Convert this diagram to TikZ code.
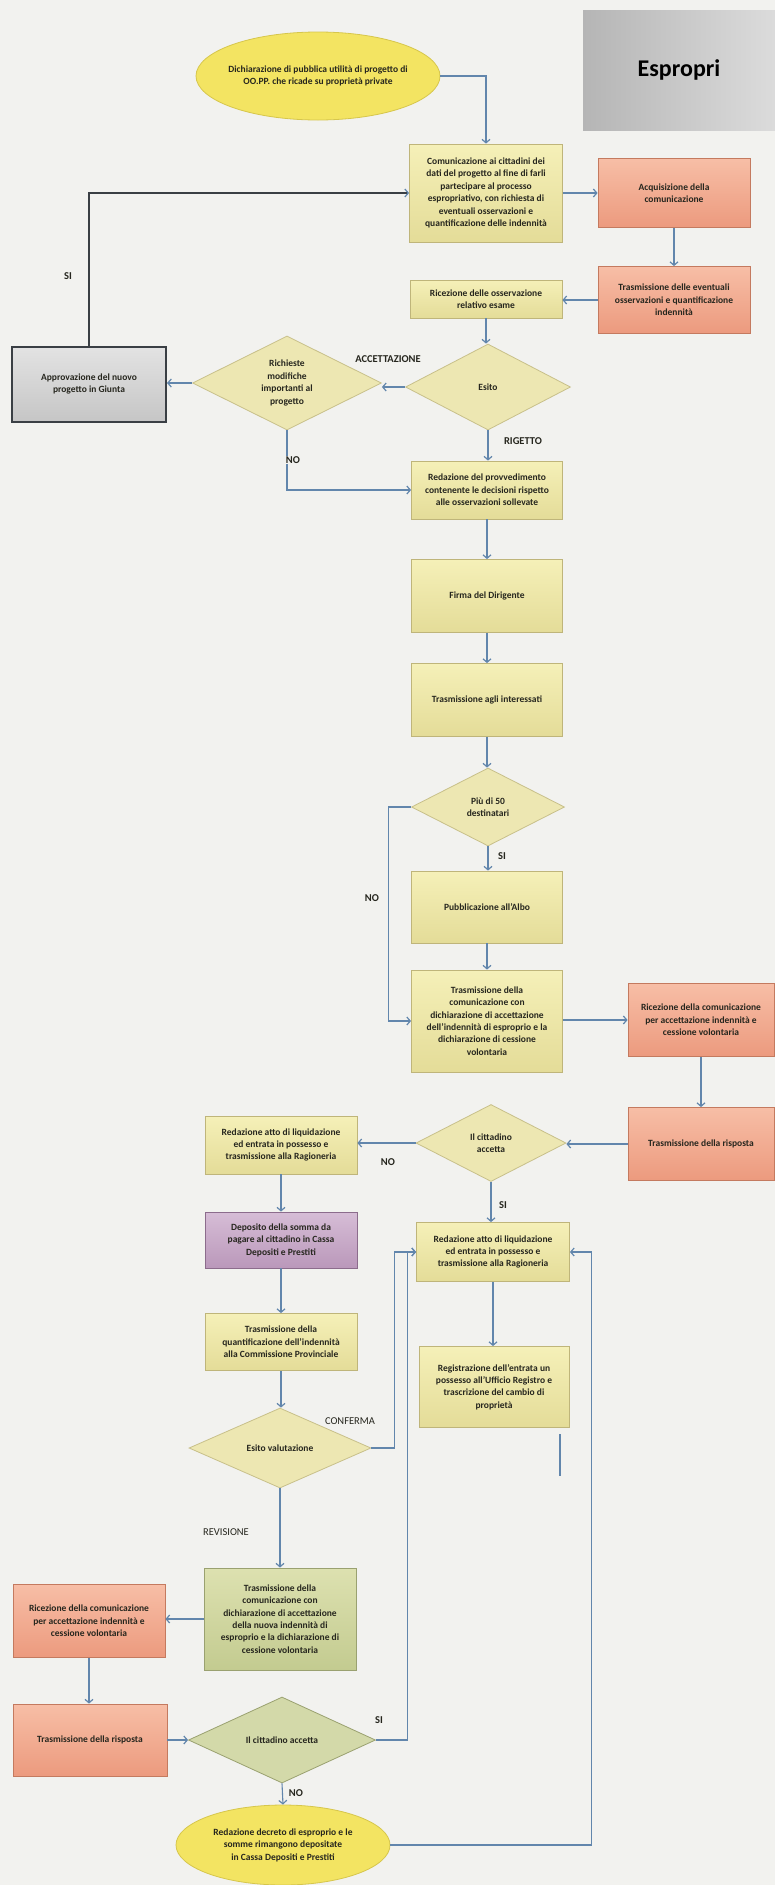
\documentclass[tikz,border=0pt]{standalone}
\usepackage{fontspec}
\setmainfont{Carlito}
\usetikzlibrary{arrows.meta,shapes.geometric,calc}
\definecolor{bgc}{HTML}{F2F2EF}
\definecolor{arr}{HTML}{6286AC}
\definecolor{arrd}{HTML}{3A3F44}
\definecolor{ylw1}{HTML}{F5F0B8}
\definecolor{ylw2}{HTML}{E4DC98}
\definecolor{ylwb}{HTML}{BFB57A}
\definecolor{sal1}{HTML}{F7BEA6}
\definecolor{sal2}{HTML}{EC9A7E}
\definecolor{salb}{HTML}{C47A5F}
\definecolor{dia}{HTML}{EDE7B2}
\definecolor{diab}{HTML}{C8C08A}
\definecolor{grn1}{HTML}{DDE1B0}
\definecolor{grn2}{HTML}{C3CB90}
\definecolor{grnb}{HTML}{9AA170}
\definecolor{gdia}{HTML}{D3D9A9}
\definecolor{pur1}{HTML}{D6BDD6}
\definecolor{pur2}{HTML}{BA98BA}
\definecolor{purb}{HTML}{8C6C8C}
\definecolor{ell}{HTML}{F3E462}
\definecolor{ellb}{HTML}{D6C64C}
\definecolor{txt}{HTML}{26261E}
\begin{document}
\begin{tikzpicture}[x=1pt,y=-1pt,
  sz/.style 2 args={minimum width=#1, minimum height=#2},
  boxtext/.style={font=\fontsize{9.5}{12.4}\selectfont\bfseries, align=center, text=txt},
  ybox/.style={boxtext, draw=ylwb, line width=0.8pt, top color=ylw1, bottom color=ylw2, inner sep=0pt},
  sbox/.style={boxtext, draw=salb, line width=0.8pt, top color=sal1, bottom color=sal2, inner sep=0pt},
  pbox/.style={boxtext, draw=purb, line width=0.8pt, top color=pur1, bottom color=pur2, inner sep=0pt},
  gnbox/.style={boxtext, draw=grnb, line width=0.8pt, top color=grn1, bottom color=grn2, inner sep=0pt},
  graybox/.style={boxtext, draw=arrd, line width=2pt, top color=gray!22, bottom color=gray!45, inner sep=0pt},
  decis/.style={diamond, draw=diab, line width=0.8pt, fill=dia, inner sep=0pt},
  term/.style={ellipse, draw=ellb, line width=0.8pt, fill=ell, inner sep=0pt},
  conn/.style={draw=arr, line width=1.1pt, -{Straight Barb[length=3.5pt,width=8pt,line width=1.2pt]}},
  lbl/.style={font=\fontsize{10.5}{12}\selectfont\bfseries, text=txt, inner sep=1pt},
  lblr/.style={font=\fontsize{10.5}{12}\selectfont, text=txt, inner sep=1pt}
]
\useasboundingbox (0,0) rectangle (775,1885);
\fill[bgc] (0,0) rectangle (775,1885);

% title
\node[left color=gray!58, right color=gray!28, sz={192}{120}, font=\fontsize{24}{26}\selectfont\bfseries, text=black] (esp) at (679,70) {Espropri};

% top part
\node[term, sz={244}{88}] (ell1) at (318,76) {};
\node[boxtext] (ell1t) at (ell1) {Dichiarazione di pubblica utilità di progetto di\\OO.PP. che ricade su proprietà private};

\node[ybox, sz={153}{98}] (com) at (486,193) {Comunicazione ai cittadini dei\\dati del progetto al fine di farli\\partecipare al processo\\espropriativo, con richiesta di\\eventuali osservazioni e\\quantificazione delle indennità};
\node[sbox, sz={152}{69}] (acq) at (674,193) {Acquisizione della\\comunicazione};
\node[sbox, sz={152}{67}] (tre) at (674,300) {Trasmissione delle eventuali\\osservazioni e quantificazione\\indennità};
\node[ybox, sz={152}{38}] (ric) at (486,299) {Ricezione delle osservazione\\relativo esame};

\node[decis, sz={165}{86}] (esito) at (488,387) {};
\node[boxtext] (esitot) at (esito) {Esito};
\node[decis, sz={189}{94}] (rich) at (287,383) {};
\node[boxtext] (richt) at (rich) {Richieste\\modifiche\\importanti al\\progetto};
\node[graybox, sz={154}{75}] (appr) at (89,384) {Approvazione del nuovo\\progetto in Giunta};

\node[ybox, sz={151}{58}] (red) at (487,490) {Redazione del provvedimento\\contenente le decisioni rispetto\\alle osservazioni sollevate};
\node[ybox, sz={151}{73}] (firma) at (487,596) {Firma del Dirigente};
\node[ybox, sz={151}{73}] (tras) at (487,700) {Trasmissione agli interessati};
\node[decis, sz={153}{78}] (piu) at (488,807) {};
\node[boxtext] (piut) at (piu) {Più di 50\\destinatari};
\node[ybox, sz={151}{72}] (pub) at (487,907) {Pubblicazione all'Albo};
\node[ybox, sz={151}{102}] (tdc) at (487,1021) {Trasmissione della\\comunicazione con\\dichiarazione di accettazione\\dell'indennità di esproprio e la\\dichiarazione di cessione\\volontaria};
\node[sbox, sz={146}{73}] (ric2) at (701,1020) {Ricezione della comunicazione\\per accettazione indennità e\\cessione volontaria};
\node[sbox, sz={146}{73}] (tdr) at (701,1144) {Trasmissione della risposta};

% middle decision
\node[decis, sz={150}{77}] (acc1) at (491,1143) {};
\node[boxtext] (acc1t) at (acc1) {Il cittadino\\accetta};
\node[ybox, sz={152}{58}] (lred) at (281,1145) {Redazione atto di liquidazione\\ed entrata in possesso e\\trasmissione alla Ragioneria};
\node[pbox, sz={152}{56}] (dep) at (281,1240) {Deposito della somma da\\pagare al cittadino in Cassa\\Depositi e Prestiti};
\node[ybox, sz={152}{57}] (tq) at (281,1342) {Trasmissione della\\quantificazione dell'indennità\\alla Commissione Provinciale};
\node[decis, sz={182}{80}] (ev) at (280,1448) {};
\node[boxtext] (evt) at (ev) {Esito valutazione};
\node[gnbox, sz={152}{102}] (tdn) at (280,1619) {Trasmissione della\\comunicazione con\\dichiarazione di accettazione\\della nuova indennità di\\esproprio e la dichiarazione di\\cessione volontaria};
\node[sbox, sz={152}{73}] (ric3) at (89,1621) {Ricezione della comunicazione\\per accettazione indennità e\\cessione volontaria};
\node[sbox, sz={154}{72}] (tdr2) at (90,1740) {Trasmissione della risposta};
\node[decis, fill=gdia, draw=grnb, sz={187}{86}] (acc2) at (282,1740) {};
\node[boxtext] (acc2t) at (acc2) {Il cittadino accetta};
\node[term, sz={214}{80}] (ell2) at (283,1845) {};
\node[boxtext] (ell2t) at (ell2) {Redazione decreto di esproprio e le\\somme rimangono depositate\\in Cassa Depositi e Prestiti};

\node[ybox, sz={153}{59}] (rred) at (493,1252) {Redazione atto di liquidazione\\ed entrata in possesso e\\trasmissione alla Ragioneria};
\node[ybox, sz={150}{81}] (reg) at (494,1387) {Registrazione dell'entrata un\\possesso all'Ufficio Registro e\\trascrizione del cambio di\\proprietà};

% connectors
\draw[conn] (ell1.east) -| (com.north);
\draw[conn] (com.east) -- (acq.west);
\draw[conn] (acq.south) -- (tre.north);
\draw[conn] (tre.west) -- (tre.west -| ric.east);
\draw[conn] (ric.south) -- (ric.south |- esito.north);
\draw[conn] (esito.west) -- (esito.west -| rich.east);
\draw[conn] (rich.west) -- (rich.west -| appr.east);
\draw[conn, draw=arrd, -{Straight Barb[length=3.5pt,width=8pt,line width=1.2pt,color=arr]}] (appr.north) |- (com.west);
\draw[conn] (rich.south) |- (red.west);
\draw[conn] (esito.south) -- (esito.south |- red.north);
\draw[conn] (red.south) -- (firma.north);
\draw[conn] (firma.south) -- (tras.north);
\draw[conn] (tras.south) -- (tras.south |- piu.north);
\draw[conn] (piu.west) -- ++(-23,0) |- (tdc.west);
\draw[conn] (piu.south) -- (piu.south |- pub.north);
\draw[conn] (pub.south) -- (tdc.north);
\draw[conn] (tdc.east |- ric2.west) -- (ric2.west);
\draw[conn] (ric2.south) -- (tdr.north);
\draw[conn] (tdr.west) -- (tdr.west -| acc1.east);
\draw[conn] (acc1.west) -- (acc1.west -| lred.east);
\draw[conn] (acc1.south) -- (acc1.south |- rred.north);
\draw[conn] (rred.south) -- (rred.south |- reg.north);
\draw[conn] (lred.south) -- (dep.north);
\draw[conn] (dep.south) -- (tq.north);
\draw[conn] (tq.south) -- (tq.south |- ev.north);
\draw[conn] (ev.east) -- ++(23,0) |- (rred.west);
\draw[conn] (ev.south) -- (ev.south |- tdn.north);
\draw[conn] (tdn.west) -- (tdn.west -| ric3.east);
\draw[conn] (ric3.south) -- (ric3.south |- tdr2.north);
\draw[conn] (tdr2.east) -- (acc2.west);
\draw[conn] (acc2.east) -- ++(32,0) |- (rred.west);
\draw[conn] (acc2.south) -- (ell2.north);
\draw[conn] (ell2.east) -- ++(201,0) |- (rred.east);

% stray mark
\coordinate (s1) at (560,1434);
\coordinate (s2) at (560,1476);
\draw[draw=arr, line width=1.1pt] (s1) -- (s2);

% labels
\node[lbl] (l1) at (68,276) {SI};
\node[lbl] (l2) at (388,359) {ACCETTAZIONE};
\node[lbl, fill=bgc] (l3) at (293,460) {NO};
\node[lbl] (l4) at (523,441) {RIGETTO};
\node[lbl] (l5) at (372,898) {NO};
\node[lbl] (l6) at (502,856) {SI};
\node[lbl] (l7) at (388,1162) {NO};
\node[lbl] (l8) at (503,1205) {SI};
\node[lblr] (l9) at (350,1421) {CONFERMA};
\node[lblr] (l10) at (226,1532) {REVISIONE};
\node[lbl] (l11) at (379,1720) {SI};
\node[lbl] (l12) at (296,1793) {NO};
\end{tikzpicture}
\end{document}
